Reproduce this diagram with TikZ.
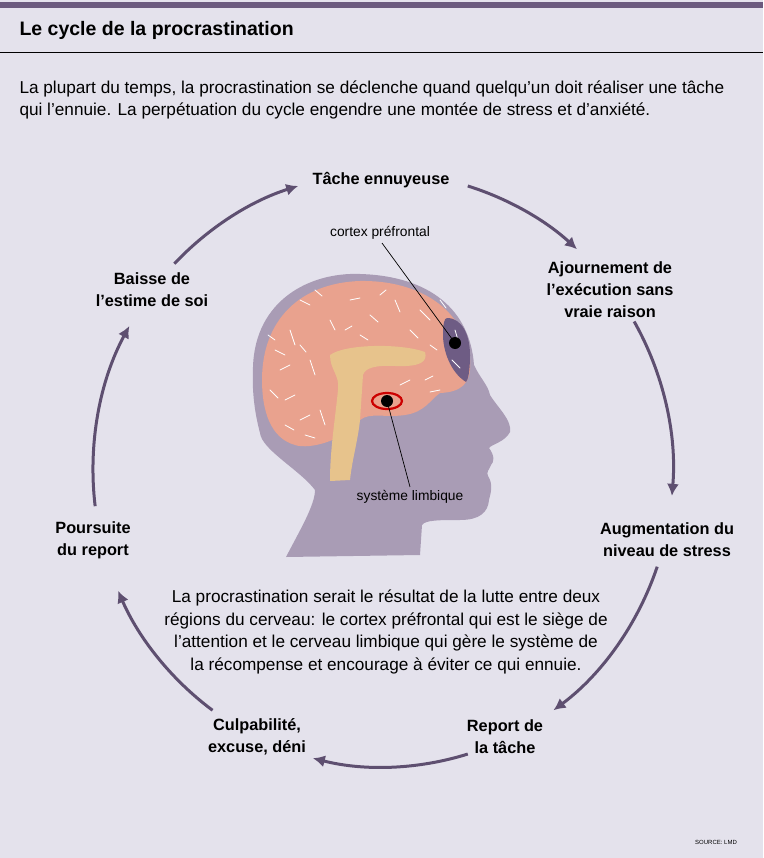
\documentclass[tikz,border=0pt]{standalone}
\usepackage{fontspec}
\setmainfont{Liberation Sans}
\usetikzlibrary{arrows.meta,calc}
\begin{document}
\begin{tikzpicture}[x=1pt,y=-1pt,
  lab/.style={font=\fontsize{16.3}{22}\selectfont\bfseries,align=center},
  txt/.style={font=\fontsize{17.2}{22.5}\selectfont},
  small/.style={font=\fontsize{13.8}{15}\selectfont},
  cyc/.style={draw=arrc,line width=3pt,-{Latex[length=12pt,width=12pt]}}]
\definecolor{bg}{HTML}{E4E2EC}
\definecolor{bar}{HTML}{6B5A7E}
\definecolor{arrc}{HTML}{5E4F70}
\definecolor{head}{HTML}{A99CB5}
\definecolor{brain}{HTML}{E9A28E}
\definecolor{pf}{HTML}{6E5C84}
\definecolor{stem}{HTML}{E7C38C}
\fill[bg] (0,0) rectangle (763,858);
\useasboundingbox (0,0) rectangle (763,858);
\fill[bar] (0,2) rectangle (763,8);
\draw[line width=1pt] (0,53) -- (763,53);
\node[anchor=west,font=\fontsize{19.5}{22}\selectfont\bfseries] (title) at (16,30) {Le cycle de la procrastination};
\node[txt,anchor=north west,align=left] (intro) at (16,77) {La plupart du temps, la procrastination se déclenche quand quelqu’un doit réaliser une tâche\\qui l’ennuie. La perpétuation du cycle engendre une montée de stress et d’anxiété.};
% head
\fill[head] (253,367) .. controls (255,300) and (310,272) .. (360,274)
  .. controls (430,276) and (470,310) .. (474,365)
  .. controls (480,378) and (488,385) .. (490,395)
  .. controls (498,408) and (512,420) .. (510,432)
  .. controls (505,442) and (492,444) .. (489,448)
  .. controls (495,456) and (494,462) .. (491,465)
  .. controls (489,470) and (486,472) .. (488,476)
  .. controls (494,485) and (490,495) .. (489,500)
  .. controls (488,512) and (480,520) .. (460,520)
  .. controls (440,520) and (425,520) .. (422,525)
  -- (420,555) -- (286,557)
  .. controls (300,530) and (315,505) .. (315,490)
  .. controls (300,470) and (262,450) .. (260,433)
  .. controls (254,410) and (252,390) .. (253,367) -- cycle;
% brain
\fill[brain] (262,380) .. controls (262,320) and (300,283) .. (360,281)
  .. controls (420,280) and (465,310) .. (470,360)
  .. controls (472,385) and (460,392) .. (440,393)
  .. controls (430,400) and (425,412) .. (405,415)
  .. controls (385,418) and (370,412) .. (360,420)
  .. controls (345,440) and (310,450) .. (295,445)
  .. controls (270,438) and (262,410) .. (262,380) -- cycle;
\fill[pf] (447,318) .. controls (462,318) and (470,335) .. (470,355)
  .. controls (470,372) and (468,380) .. (466,382)
  .. controls (450,372) and (443,350) .. (443,335)
  .. controls (443,325) and (444,318) .. (447,318) -- cycle;
\foreach \a/\b/\c/\d in {300/300/310/305, 330/320/335/330, 290/330/295/345, 280/370/290/365, 310/360/315/375, 350/300/360/298, 395/300/400/312, 420/310/430/320, 285/400/295/395, 300/420/310/415, 320/410/325/425, 275/350/285/355, 400/385/410/380, 440/390/430/392, 455/330/458/340, 452/360/460/368, 370/315/378/322, 345/330/352/326, 410/330/418/338, 380/295/386/290, 315/290/322/296, 270/390/278/398, 285/425/294/430, 305/435/315/438, 430/345/437/350, 300/345/306/352, 360/335/368/340, 440/300/446/308, 425/380/433/376, 268/335/275/340}
  \draw[white,line width=0.8pt,line cap=round] (\a,\b) -- (\c,\d);
\fill[stem] (330,355) .. controls (345,344) and (400,343) .. (425,352)
  .. controls (428,362) and (420,367) .. (395,366)
  .. controls (375,365) and (365,368) .. (363,375)
  -- (360,420) .. controls (358,440) and (352,460) .. (350,480)
  -- (330,481) .. controls (330,450) and (335,420) .. (338,390)
  .. controls (340,375) and (330,370) .. (330,355) -- cycle;
\draw[red!80!black,line width=2.2pt] (387,401) ellipse [x radius=15pt,y radius=8pt];
\fill[black] (455,343) circle (6pt);
\fill[black] (387,401) circle (6pt);
\node[small] (cpf) at (380,233) {cortex préfrontal};
\node[small] (sl) at (410,497) {système limbique};
\coordinate (d1) at (455,343);
\coordinate (d2) at (387,401);
\draw[line width=0.7pt] ($(cpf.south)+(2,0)$) -- (d1);
\draw[line width=0.7pt] (d2) -- (sl.north);
% labels
\node[lab] (t) at (381,180) {Tâche ennuyeuse};
\node[lab] (a) at (610,290) {Ajournement de\\l’exécution sans\\vraie raison};
\node[lab] (s) at (667,540) {Augmentation du\\niveau de stress};
\node[lab] (r) at (505,737) {Report de\\la tâche};
\node[lab] (c) at (257,737) {Culpabilité,\\excuse, déni};
\node[lab] (p) at (93,540) {Poursuite\\du report};
\node[lab] (b) at (152,290) {Baisse de\\l’estime de soi};
\node[txt,align=center] (mid) at (386,632) {La procrastination serait le résultat de la lutte entre deux\\régions du cerveau: le cortex préfrontal qui est le siège de\\l’attention et le cerveau limbique qui gère le système de\\la récompense et encourage à éviter ce qui ennuie.};
\node[font=\fontsize{6}{7}\selectfont] (src) at (716,842) {SOURCE: LMD};
% arrows
\coordinate (o) at (383,470);
\foreach \s/\e in {-136/-107, -73/-48, -30/5, 19/54, 73/104, 126/156, 173/209}
  \draw[cyc] ($(o)+({290*cos(\s)},{297*sin(\s)})$) arc[start angle=\s,end angle=\e,x radius=290,y radius=297];
\end{tikzpicture}
\end{document}
